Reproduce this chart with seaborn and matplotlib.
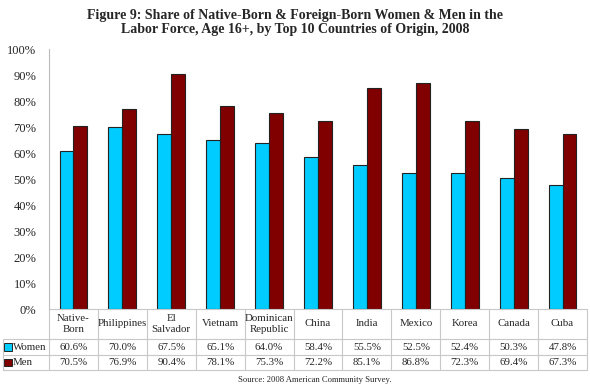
import numpy as np
import pandas as pd
import seaborn as sns
import matplotlib.pyplot as plt
from matplotlib.patches import Rectangle
from matplotlib.lines import Line2D

countries = ["Native-\nBorn", "Philippines", "El\nSalvador", "Vietnam", "Dominican\nRepublic",
             "China", "India", "Mexico", "Korea", "Canada", "Cuba"]
women = [60.6, 70.0, 67.5, 65.1, 64.0, 58.4, 55.5, 52.5, 52.4, 50.3, 47.8]
men = [70.5, 76.9, 90.4, 78.1, 75.3, 72.2, 85.1, 86.8, 72.3, 69.4, 67.3]
series = ["Women", "Men"]
colors = ["#00CCFF", "#800000"]

df = pd.DataFrame({
    "country": countries * 2,
    "sex": ["Women"] * len(countries) + ["Men"] * len(countries),
    "value": women + men,
})

sns.set_style("white")
plt.rcParams["font.family"] = ["Liberation Serif", "DejaVu Serif"]

fig = plt.figure(figsize=(5.9, 3.88), dpi=100)
ax = fig.add_axes([49 / 590, 1 - 309 / 388, 538 / 590, 260 / 388])

sns.barplot(data=df, x="country", y="value", hue="sex", palette=colors, saturation=1,
            width=0.57, edgecolor="#222222", linewidth=0.8, legend=False, ax=ax)

ax.set_ylim(0, 100)
ax.set_xlim(-0.5, len(countries) - 0.5)
ax.set_yticks(np.arange(0, 101, 10))
ax.set_yticklabels([f"{v}%" for v in range(0, 101, 10)], fontsize=9)
ax.set_xticks([])
ax.set_xlabel("")
ax.set_ylabel("")
for s in ["top", "right", "bottom"]:
    ax.spines[s].set_visible(False)
ax.spines["left"].set_color("#bbbbbb")
ax.spines["left"].set_linewidth(0.8)
ax.tick_params(axis="y", direction="out", length=4, width=0.8, color="#bbbbbb", pad=5)

# data table below the axis
tr = ax.get_xaxis_transform()
n = len(countries)
gc = "#c8c8c8"
ax_h = 260.0
y_top = 0.0
y_cat = -30 / ax_h
y_w = -46 / ax_h
y_m = -61 / ax_h
x_left = -0.5 - 46 / 48.9
fs = 7.8

def hline(x0, x1, y):
    ax.add_line(Line2D([x0, x1], [y, y], transform=tr, color=gc, lw=0.8, clip_on=False))

def vline(x, y0, y1):
    ax.add_line(Line2D([x, x], [y0, y1], transform=tr, color=gc, lw=0.8, clip_on=False))

hline(-0.5, n - 0.5, y_top)
hline(x_left, n - 0.5, y_cat)
hline(x_left, n - 0.5, y_w)
hline(x_left, n - 0.5, y_m)
vline(x_left, y_cat, y_m)
for i in range(n + 1):
    vline(i - 0.5, y_top, y_m)

for i, c in enumerate(countries):
    ax.text(i, (y_top + y_cat) / 2, c, transform=tr, ha="center", va="center",
            fontsize=fs, linespacing=1.3, clip_on=False)
    ax.text(i, (y_cat + y_w) / 2, f"{women[i]:.1f}%", transform=tr, ha="center",
            va="center", fontsize=fs, clip_on=False)
    ax.text(i, (y_w + y_m) / 2, f"{men[i]:.1f}%", transform=tr, ha="center",
            va="center", fontsize=fs, clip_on=False)

for j, (lab, col) in enumerate(zip(series, colors)):
    yc = [(y_cat + y_w) / 2, (y_w + y_m) / 2][j]
    sq = 7.5 / ax_h
    ax.add_patch(Rectangle((x_left + 0.025, yc - sq / 2), 0.15, sq, transform=tr,
                           facecolor=col, edgecolor="#222222", lw=0.7, clip_on=False))
    ax.text(x_left + 0.2, yc, lab, transform=tr, ha="left", va="center",
            fontsize=fs, clip_on=False)

fig.text(0.5, 1 - 22.5 / 388,
         "Figure 9: Share of Native-Born & Foreign-Born Women & Men in the\n"
         "Labor Force, Age 16+, by Top 10 Countries of Origin, 2008",
         ha="center", va="center", fontsize=10, fontweight="bold", linespacing=1.2)
fig.text(315 / 590, 1 - 380 / 388, "Source: 2008 American Community Survey.",
         ha="center", va="center", fontsize=6.2)

fig.savefig("out.png", dpi=100)
